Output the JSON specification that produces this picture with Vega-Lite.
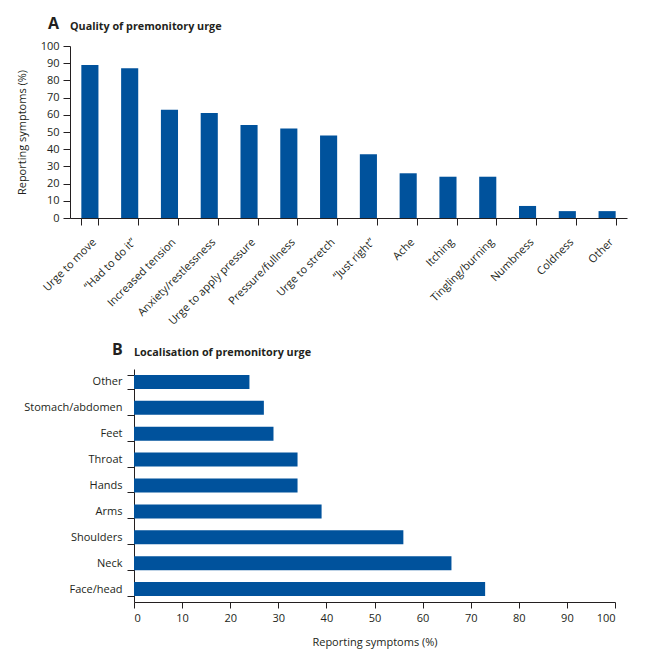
{
  "$schema": "https://vega.github.io/schema/vega-lite/v6.json",
  "padding": {"left": 16, "top": 16, "right": 5, "bottom": 5},
  "background": "white",
  "config": {
    "font": "Open Sans",
    "view": {"stroke": null},
    "axis": {
      "labelFont": "Open Sans",
      "titleFont": "Open Sans",
      "labelFontSize": 11,
      "titleFontSize": 11,
      "titleFontWeight": "normal",
      "labelColor": "#231f20",
      "titleColor": "#231f20",
      "domainColor": "#231f20",
      "tickColor": "#231f20",
      "grid": false
    },
    "title": {"font": "Open Sans", "color": "#231f20"}
  },
  "datasets": {
    "quality": [
      {"symptom": "Urge to move", "percent": 89},
      {"symptom": "“Had to do it”", "percent": 87},
      {"symptom": "Increased tension", "percent": 63},
      {"symptom": "Anxiety/restlessness", "percent": 61},
      {"symptom": "Urge to apply pressure", "percent": 54},
      {"symptom": "Pressure/fullness", "percent": 52},
      {"symptom": "Urge to stretch", "percent": 48},
      {"symptom": "“Just right”", "percent": 37},
      {"symptom": "Ache", "percent": 26},
      {"symptom": "Itching", "percent": 24},
      {"symptom": "Tingling/burning", "percent": 24},
      {"symptom": "Numbness", "percent": 7},
      {"symptom": "Coldness", "percent": 4},
      {"symptom": "Other", "percent": 4}
    ],
    "location": [
      {"location": "Other", "percent": 24},
      {"location": "Stomach/abdomen", "percent": 27},
      {"location": "Feet", "percent": 29},
      {"location": "Throat", "percent": 34},
      {"location": "Hands", "percent": 34},
      {"location": "Arms", "percent": 39},
      {"location": "Shoulders", "percent": 56},
      {"location": "Neck", "percent": 66},
      {"location": "Face/head", "percent": 73}
    ]
  },
  "spacing": 15,
  "vconcat": [
    {
      "title": {"text": "A", "anchor": "start", "frame": "group", "dx": -22, "dy": 11, "fontSize": 16, "fontWeight": "bold", "offset": 0},
      "hconcat": [
        {
          "width": 557,
          "height": 172,
          "title": {"text": "Quality of premonitory urge", "anchor": "start", "frame": "group", "fontSize": 10.8, "fontWeight": "bold", "offset": 8},
          "data": {"name": "quality"},
          "mark": {"type": "bar", "color": "#00529c"},
          "encoding": {
            "x": {
              "field": "symptom", "type": "nominal", "sort": null,
              "scale": {"paddingInner": 0.57, "paddingOuter": 0.285},
              "axis": {"title": null, "labelAngle": -45, "tickBand": "extent", "tickSize": 7, "labelPadding": 11}
            },
            "y": {
              "field": "percent", "type": "quantitative",
              "scale": {"domain": [0, 100], "nice": false},
              "axis": {"title": "Reporting symptoms (%)", "values": [0, 10, 20, 30, 40, 50, 60, 70, 80, 90, 100], "tickSize": 7, "labelPadding": 4, "titlePadding": 13}
            }
          }
        }
      ]
    },
    {
      "title": {"text": "B", "anchor": "start", "frame": "group", "dx": 42, "dy": 11, "fontSize": 16, "fontWeight": "bold", "offset": 0},
      "hconcat": [
        {
          "width": 545,
          "height": 233,
          "title": {"text": "Localisation of premonitory urge", "anchor": "start", "frame": "group", "dx": 64, "fontSize": 10.8, "fontWeight": "bold", "offset": 5},
          "data": {"name": "location"},
          "mark": {"type": "bar", "color": "#00529c"},
          "encoding": {
            "y": {
              "field": "location", "type": "nominal", "sort": null,
              "scale": {"paddingInner": 0.46, "paddingOuter": 0.23},
              "axis": {"title": null, "tickBand": "extent", "tickSize": 7, "labelPadding": 5, "offset": -64}
            },
            "x": {
              "field": "percent", "type": "quantitative",
              "scale": {"domain": [0, 100], "nice": false, "range": [64, 545]},
              "axis": {"title": "Reporting symptoms (%)", "values": [0, 10, 20, 30, 40, 50, 60, 70, 80, 90, 100], "tickSize": 6, "labelPadding": 4, "titlePadding": 13}
            }
          }
        }
      ]
    }
  ]
}
